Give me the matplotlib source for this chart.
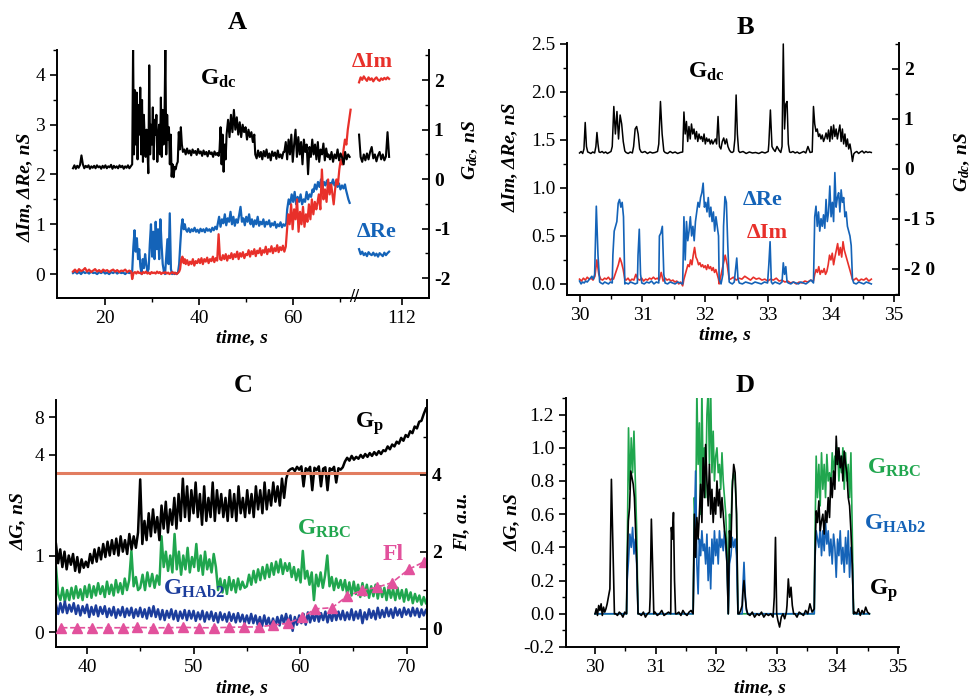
import numpy as np
import matplotlib
matplotlib.use('Agg')
import matplotlib.pyplot as plt
from matplotlib.ticker import FixedLocator, FixedFormatter, MultipleLocator, FormatStrFormatter

plt.rcParams['font.family'] = ['Liberation Serif', 'DejaVu Serif']
plt.rcParams['mathtext.fontset'] = 'custom'
plt.rcParams['mathtext.rm'] = 'Liberation Serif:bold'
plt.rcParams['mathtext.it'] = 'Liberation Serif:italic:bold'
plt.rcParams['mathtext.bf'] = 'Liberation Serif:bold'
plt.rcParams['axes.unicode_minus'] = False

# ---------------- DATA ----------------
# Panel A  (segments: t_start, t_end, values)
A_gdc_pre = [
    (13.2, 25.5, [0.22,0.28,0.21,0.27,0.23,0.29,0.48,0.30,0.22,0.27,0.24,0.28,0.21,0.26,0.23,0.27,0.22,0.28,0.24,0.26,0.21,
                  0.27,0.23,0.28,0.22,0.26,0.24,0.29,0.21,0.27,0.23,0.26,0.22,0.28,0.24,0.27,0.21,0.26,0.23,0.28,0.22,0.26]),
    (25.8, 34.2, [0.3,2.7,0.5,1.8,0.7,1.75,0.4,1.5,0.9,1.85,0.5,1.6,0.35,1.3,0.8,0.45,1.0,0.6,0.12,2.3,0.5,1.1,0.7,1.45,0.4,
                  1.2,0.9,1.3,0.35,0.8,1.1,0.5,1.65,0.45,1.4,0.7,1.2,2.7,0.5,1.3,0.8,1.05,0.3,0.9,0.05]),
    (34.4, 36.6, [0.3,0.04,0.25,0.2,0.3,0.35,0.95,0.6,1.05,0.7,0.55]),
    (36.9, 44.2, [0.6,0.5,0.62,0.52,0.58,0.48,0.6,0.53,0.57,0.49,0.61,0.52,0.56,0.47,0.58,0.5,0.55,0.46,0.57,0.51,0.54,0.45,
                  0.56,0.49,0.53,0.47]),
    (44.4, 45.7, [0.6,1.05,0.3,0.9,0.15,0.7,0.4]),
    (45.9, 51.8, [0.9,1.2,0.85,1.3,0.95,1.4,1.0,1.25,0.9,1.15,0.85,1.1,0.95,1.05,0.8,1.0,0.85,0.95,0.75,0.9]),
    (52.0, 58.0, [0.5,0.42,0.58,0.45,0.55,0.4,0.57,0.46,0.6,0.43,0.52,0.38,0.56,0.47,0.54,0.41,0.58,0.44,0.5,0.42,0.55]),
    (58.2, 67.4, [0.55,0.75,0.4,0.8,0.5,0.9,0.35,0.7,1.0,0.45,0.85,0.5,0.75,0.3,0.8,0.55,0.7,0.1,0.65,0.45,0.8,0.5,0.7,
                  0.4,0.75,0.35,0.6,0.5,0.72,0.38,0.62,0.45]),
    (67.6, 72.1, [0.5,0.4,0.55,0.35,0.5,0.42,0.6,0.38,0.52,0.44,0.3,0.55,0.4,0.5,0.45]),
]
A_gdc_post = [(102.9, 109.3, [0.9,0.45,0.35,0.5,0.38,0.52,0.4,0.55,0.65,0.42,0.5,0.36,0.48,0.55,0.4,0.5,0.38,0.46,0.95,0.45])]

A_re_pre = [
    (13.2, 25.6, [0.02,0.05,0.01,0.04,0.0,0.05,0.02,0.04,0.01,0.05,0.02,0.03,0.0,0.04,0.02,0.05,0.01,0.03,0.0,0.04,0.02,
                  0.05,0.01,0.04,0.02,0.03,0.0,0.04,0.02,0.03]),
    (25.8, 35.55, [0.05,0.55,0.88,0.45,0.72,0.3,0.5,0.15,0.0,0.3,0.12,0.4,0.2,0.05,0.1,0.6,1.0,0.35,0.85,0.3,1.05,0.5,0.9,
                   0.3,1.1,0.6,0.2,0.05,0.0,0.35,0.7,0.2,1.22,0.1,0.0,0.03,0.0,0.02,0.0,0.03]),
    (35.8, 37.0, [0.2,0.6,0.95,1.1,0.9,1.0]),
    (37.2, 43.8, [0.9,0.85,0.92,0.84,0.9,0.86,0.93,0.85,0.89,0.83,0.91,0.86,0.9,0.84,0.92,0.87,0.9,0.85,0.93,0.88,0.95,0.9]),
    (44.0, 58.6, [1.0,1.15,0.95,1.1,1.02,1.2,0.98,1.12,1.05,1.25,1.0,1.15,0.97,1.1,1.03,1.18,1.35,1.05,1.12,0.98,1.15,1.05,
                  1.2,1.0,1.1,0.95,1.08,1.0,1.15,0.97,1.05,1.0,1.1,0.95,1.05,1.0,1.08,0.95,1.02,0.98,1.05,0.93,1.0,0.96,
                  1.04,0.94,1.0,0.97,1.02]),
    (58.8, 64.2, [1.3,1.5,1.4,1.6,1.45,1.65,1.4,1.55,1.45,1.6,1.4,1.5,1.45,1.65,1.5,1.6,1.55,1.7]),
    (64.4, 71.1, [1.65,1.8,1.7,1.85,1.75,1.9,1.72,1.85,1.78,1.88,1.75,1.83,1.8,1.9,1.78,1.85,1.75,1.82,1.7,1.78,1.72,1.8]),
    (71.3, 72.1, [1.7,1.6,1.5,1.43]),
]
A_re_post = [(102.9, 109.3, [0.5,0.4,0.45,0.38,0.42,0.36,0.44,0.4,0.38,0.43,0.37,0.41,0.35,0.42,0.39,0.36,0.43,0.38,0.42,0.45])]

A_im_pre = [
    (13.2, 25.6, [0.05,0.09,0.04,0.1,0.06,0.08,0.12,0.05,0.09,0.04,0.07,0.1,0.05,0.08,0.04,0.09,0.06,0.08,0.04,0.07,0.09,
                  0.05,0.08,0.04,0.07,0.06,0.09,0.04,0.07,0.05]),
    (25.8, 35.8, [-0.1,0.02,0.04,0.01,0.05,0.02,0.03,0.0,0.04,0.02,0.05,0.01,0.03,0.0,0.04,0.02,0.03,0.01,0.05,0.02,0.04,
                  0.0,0.03,0.02,0.04,0.01,0.03,0.0,0.02,0.04,0.01,0.03,0.0,0.02,0.05]),
    (36.0, 37.0, [0.1,0.3,0.35,0.22,0.3]),
    (37.2, 58.5, [0.2,0.28,0.18,0.25,0.2,0.3,0.17,0.26,0.22,0.3,
                  0.22,0.32,0.2,0.3,0.25,0.33,0.22,0.3,0.26,0.35,0.24,0.32,0.27,
                  0.8,0.3,
                  0.28,0.38,0.3,0.4,0.27,0.37,0.32,0.42,0.3,0.4,0.34,0.45,0.3,0.42,0.35,0.44,0.32,0.4,
                  0.38,0.48,0.35,0.46,0.4,0.5,0.36,0.47,0.42,0.52,0.38,0.48,0.43,0.55,0.4,0.5,0.45,0.56,0.42,0.52,
                  0.46,0.58,0.44,0.54,0.48,0.57,0.45,0.55]),
    (58.7, 65.0, [0.8,1.2,1.0,1.4,0.9,1.3,1.1,1.5,0.85,1.25,1.0,1.35,0.95,1.2,1.05,1.4,1.1,1.5,1.2,1.45,1.3]),
    (65.2, 68.5, [1.4,1.6,1.3,2.1,1.5,1.7,1.45,1.9,1.6,1.8,1.55]),
    (68.7, 72.3, [1.4,1.7,1.9,1.8,2.1,2.3,2.2,2.5,2.7,2.6,2.9,3.1,3.3]),
]
A_im_post = [(102.9, 109.3, [3.85,3.95,3.9,3.97,3.92,3.88,3.95,3.9,3.93,3.87,3.92,3.95,3.9,3.88,3.93,3.9,3.94,3.91,3.95,3.92])]

# Panel B
B_gdc = [
    (30.00, 30.05, [0.32,0.35,0.31]),
    (30.07, 30.13, [0.4,0.93,0.45,0.34]),
    (30.15, 30.24, [0.33,0.31,0.34,0.32]),
    (30.26, 30.31, [0.45,0.73,0.5,0.34]),
    (30.33, 30.50, [0.33,0.35,0.32,0.34,0.31,0.33,0.35]),
    (30.52, 30.72, [0.45,1.25,0.7,1.15,0.6,1.08,0.9,0.55,0.36]),
    (30.74, 30.84, [0.33,0.31,0.34,0.32]),
    (30.86, 30.98, [0.45,0.8,0.85,0.7,0.4,0.34]),
    (31.00, 31.24, [0.33,0.35,0.31,0.34,0.32,0.33,0.35]),
    (31.26, 31.34, [0.5,1.35,0.7,0.36]),
    (31.36, 31.64, [0.33,0.31,0.35,0.32,0.34,0.31,0.33,0.34]),
    (31.66, 32.16, [1.14,0.7,0.95,0.55,0.85,0.6,0.9,0.7,0.8,0.6,0.75,0.55,0.7,0.6,0.65,0.55,0.7,0.5,0.62,0.55,0.6,0.5,
                    0.58,0.5,0.55,0.6]),
    (32.18, 32.45, [0.5,1.05,0.45,0.4,0.55,0.62,0.5,0.6,0.45,0.38,0.34,0.33,0.35]),
    (32.47, 32.53, [0.6,1.48,0.7,0.36]),
    (32.55, 33.00, [0.33,0.35,0.31,0.34,0.32,0.33,0.31,0.34,0.32,0.35]),
    (33.01, 33.06, [0.5,1.18,0.45]),
    (33.08, 33.20, [0.4,0.35,0.45,0.38,0.33]),
    (33.22, 33.34, [0.45,2.5,0.8,1.3,1.35,0.5,0.34]),
    (33.36, 33.70, [0.33,0.35,0.32,0.34,0.31,0.33,0.35,0.32,0.45,0.33,0.34]),
    (33.72, 34.32, [1.25,0.9,0.75,0.8,0.65,0.7,0.6,0.68,0.55,0.62,0.72,0.6,0.78,0.55,0.85,0.6,0.88,0.65,0.8,0.6,0.75,0.88,
                    0.55,0.8,0.5,0.7,0.45,0.6,0.4,0.5,0.35]),
    (34.34, 34.36, [0.15,0.3]),
    (34.38, 34.64, [0.33,0.35,0.31,0.34,0.36,0.32,0.35,0.33,0.34,0.33]),
]
B_re = [
    (30.00, 30.22, [0.03,0.0,0.02,0.01,0.03,0.02,0.04,0.06,0.08,0.05]),
    (30.24, 30.32, [0.1,0.81,0.3,0.02]),
    (30.34, 30.52, [0.01,0.0,0.02,0.01,0.0,0.02,0.01]),
    (30.53, 30.72, [0.3,0.55,0.6,0.65,0.84,0.88,0.8,0.85,0.7,0.0]),
    (30.74, 30.92, [0.01,0.0,0.02,0.01,0.0,0.01]),
    (30.93, 30.97, [0.3,0.57,0.1]),
    (30.99, 31.26, [0.01,0.0,0.02,0.01,0.03,0.0,0.02,0.01]),
    (31.27, 31.34, [0.5,0.53,0.6,0.1]),
    (31.36, 31.64, [0.01,0.0,0.02,0.01,0.0,0.02,0.01,0.0]),
    (31.66, 32.21, [0.7,0.25,0.65,0.45,0.55,0.7,0.5,0.6,0.45,0.65,0.75,0.85,0.8,0.9,0.95,1.05,0.8,0.85,0.75,0.9,0.7,0.8,
                    0.65,0.75,0.55,0.7,0.6,0.5]),
    (32.22, 32.28, [0.05,0.0,0.1]),
    (32.29, 32.38, [0.6,0.91,0.85,0.4,0.02]),
    (32.40, 32.46, [0.01,0.0,0.02]),
    (32.48, 32.52, [0.15,0.27,0.05]),
    (32.54, 32.99, [0.01,0.0,0.02,0.01,0.0,0.02,0.01,0.0,0.02,0.01]),
    (33.01, 33.05, [0.2,0.44,0.02]),
    (33.07, 33.22, [0.0,0.02,0.01,0.0,0.02]),
    (33.24, 33.30, [0.22,0.1,0.18,0.02]),
    (33.32, 33.72, [0.01,0.0,0.02,0.01,0.0,0.02,0.01,0.0,0.02,0.04,0.01]),
    (33.74, 34.34, [0.7,0.81,0.6,0.75,0.55,0.68,0.6,0.72,0.58,0.88,0.65,0.75,1.02,0.7,0.85,0.65,1.16,0.8,0.9,0.95,0.75,
                    0.98,0.85,0.9,0.7,0.75,0.6,0.55,0.5,0.4,0.05]),
    (34.36, 34.64, [0.01,0.0,0.02,0.01,0.0,0.02,0.01,0.0]),
]
B_im = [
    (30.00, 30.52, [0.05,0.03,0.06,0.04,0.07,0.05,0.06,0.04,0.08,0.25,0.1,0.05,0.04,0.06,0.05,0.07,0.04,0.06]),
    (30.54, 30.72, [0.05,0.1,0.15,0.2,0.27,0.22,0.15,0.05]),
    (30.74, 31.64, [0.04,0.06,0.03,0.05,0.04,0.1,0.05,0.04,0.06,0.03,0.05,0.04,0.06,0.05,0.07,0.05,0.06,0.04,0.12,0.03,
                    0.06,0.04,0.05,0.03,0.04,0.02,0.03,0.0,0.02,-0.02]),
    (31.66, 32.21, [0.05,0.1,0.15,0.2,0.18,0.25,0.2,0.3,0.38,0.28,0.25,0.2,0.22,0.18,0.2,0.17,0.19,0.15,0.2,0.16,0.18,0.14,
                    0.17,0.12,0.15,0.1,0.05]),
    (32.22, 32.38, [0.0,0.1,0.2,0.3,0.2,0.05]),
    (32.40, 33.72, [0.05,0.07,0.04,0.06,0.05,0.08,0.06,0.04,0.07,0.05,0.06,0.04,0.05,0.03,0.05,0.04,0.06,0.03,0.04,0.02,
                    0.03,0.01,0.02,0.0,0.02,0.01,0.03,0.02,0.04,0.03]),
    (33.74, 34.34, [0.1,0.15,0.12,0.18,0.1,0.14,0.12,0.16,0.1,0.13,0.2,0.3,0.25,0.32,0.2,0.28,0.35,0.42,0.3,0.38,0.28,0.44,
                    0.35,0.3,0.25,0.2,0.15,0.1,0.05]),
    (34.36, 34.64, [0.04,0.06,0.03,0.05,0.04,0.06,0.03,0.05]),
]

# Panel C
C_gp = [
    (37.1, 39.9, [1.15,0.9,1.08,0.85,1.05,0.82,1.0,0.88,1.02,0.8,0.98,0.78,0.95,0.84,0.92]),
    (40.1, 44.8, [0.85,1.02,0.9,1.08,0.92,1.1,0.95,1.15,0.98,1.18,1.0,1.2,1.02,1.22,1.0,1.25,1.05,1.2,1.02,1.28,1.08,1.25,
                  1.1,1.3]),
    (45.0, 48.8, [1.99,1.15,1.45,1.2,1.55,1.25,1.6,1.3,1.5,1.2,1.65,1.35,1.7,1.3,1.6,1.4,1.75,1.35,1.8,1.45]),
    (49.0, 52.8, [2.0,1.5,1.9,1.45,1.85,1.55,1.95,1.5,1.8,1.4,1.9,1.45,1.75,1.5,1.95,1.45,1.85,1.55,1.8,1.5]),
    (53.0, 58.5, [1.75,1.45,1.85,1.5,1.8,1.45,1.9,1.55,1.75,1.5,1.85,1.55,1.8,1.5,1.9,1.6,1.85,1.55,1.95,1.6,1.85,1.65,
                  1.95,1.7,1.9,1.65,2.0,1.75]),
    (58.7, 59.1, [2.0,2.3,2.5]),
    (59.3, 64.0, [2.6,2.3,2.75,2.45,2.8,1.9,2.6,2.35,2.75,1.85,2.65,2.4,2.8,1.9,2.55,2.7,1.85,2.6,2.4,2.75,1.95,2.6,2.45,
                  2.7]),
    (64.2, 67.8, [3.3,3.7,3.4,3.9,3.5,3.8,3.6,4.0,3.7,4.1,3.8,4.2,3.9,4.3,4.0,4.4,4.1,4.5]),
    (68.0, 71.8, [4.4,4.9,4.6,5.1,4.9,5.4,5.2,5.8,5.5,6.1,5.9,6.5,6.3,7.0,6.8,7.5,7.6,8.3,8.9]),
]
C_rbc = [
    (37.1, 44.8, [0.85,0.5,0.42,0.58,0.4,0.55,0.42,0.58,0.44,0.6,0.45,0.56,0.42,0.6,0.46,0.62,0.45,0.6,0.48,0.64,0.5,0.6,
                  0.46,0.66,0.5,0.62,0.48,0.68,0.52,0.64,0.5,0.7,0.55,0.68,1.06,0.6,0.72,0.55]),
    (45.0, 46.8, [0.58,0.75,0.55,0.78,0.6,0.76,0.58,0.74,0.62]),
    (47.0, 52.1, [1.25,0.85,1.05,0.8,1.0,0.78,1.28,0.82,1.05,0.75,1.0,0.82,1.1,0.78,0.98,0.85,1.15,0.8,1.0,0.75,1.05,0.82,
                  0.95,0.78,1.02,0.85]),
    (52.3, 54.8, [0.55,0.7,0.52,0.68,0.5,0.72,0.55,0.68,0.52,0.7,0.56,0.66,0.58]),
    (55.0, 58.8, [0.6,0.75,0.62,0.8,0.65,0.82,0.68,0.85,0.7,0.88,0.72,0.9,0.75,0.92,0.78,0.95,0.76,0.9,0.8]),
    (59.0, 63.8, [0.9,0.72,0.85,0.68,0.82,0.65,1.06,0.7,0.8,0.62,0.78,0.42,0.75,0.6,0.78,0.58,0.74,1.0,0.6,0.72,0.55,0.7,
                  0.58,0.68]),
    (64.0, 71.8, [0.55,0.68,0.5,0.65,0.48,0.66,0.5,0.62,0.46,0.64,0.48,0.62,0.45,0.6,0.47,0.62,0.44,0.6,0.46,0.58,0.42,0.6,
                  0.45,0.56,0.42,0.58,0.44,0.55,0.4,0.56,0.42,0.52,0.38,0.5,0.4,0.48,0.36,0.46,0.38]),
]
C_hab2 = [
    (37.1, 44.8, [0.36,0.24,0.38,0.26,0.4,0.25,0.36,0.27,0.38,0.24,0.35,0.22,0.34,0.25,0.36,0.2,0.33,0.23,0.35,0.21,0.33,
                  0.24,0.34,0.2,0.31,0.22,0.33,0.19,0.3,0.22,0.33,0.2,0.31,0.22,0.32,0.19,0.3,0.21]),
    (45.0, 54.8, [0.32,0.2,0.3,0.18,0.32,0.21,0.34,0.2,0.3,0.17,0.29,0.16,0.28,0.19,0.3,0.17,0.28,0.15,0.27,0.18,0.29,0.16,
                  0.28,0.18,0.28,0.15,0.26,0.17,0.28,0.14,0.26,0.17,0.27,0.15,0.25,0.13,0.26,0.16,0.24,0.14,0.26,0.15,
                  0.24,0.13,0.25,0.14,0.23,0.12]),
    (55.0, 63.8, [0.22,0.12,0.24,0.12,0.22,0.1,0.2,0.08,0.22,0.1,0.19,0.06,0.18,0.08,0.2,0.09,0.22,0.12,0.24,0.11,0.22,0.02,
                  0.2,0.1,0.22,0.12,0.24,0.1,0.26,0.13,0.24,0.15,0.27,0.14,0.25,0.16,0.27,0.13,0.26,0.15,0.28,0.16,0.27,
                  0.17]),
    (64.0, 71.8, [0.28,0.16,0.26,0.17,0.3,0.16,0.27,0.18,0.29,0.12,0.26,0.17,0.3,0.19,0.28,0.17,0.32,0.19,0.29,0.2,0.32,
                  0.21,0.3,0.19,0.32,0.22,0.3,0.2,0.32,0.23,0.3,0.21,0.32,0.22,0.31,0.2,0.3,0.22,0.29]),
]
C_fl_t = [37.6,39.1,40.5,42.0,43.4,44.7,46.2,47.6,49.0,50.5,51.9,53.3,54.7,56.1,57.5,58.9,60.2,61.4,63.0,64.4,65.8,67.2,
          68.6,70.2,71.6]
C_fl_v = [0.03,0.03,0.03,0.03,0.03,0.04,0.03,0.03,0.04,0.03,0.03,0.04,0.05,0.05,0.1,0.15,0.3,0.52,0.55,0.85,1.0,1.08,
          1.2,1.55,1.74]

# Panel D
D_gp = [
    (30.00, 30.20, [0.0,0.03,-0.01,0.05,0.02,0.06,-0.01,0.04,0.01,0.03,0.06]),
    (30.22, 30.32, [0.1,0.15,0.81,0.4,0.0]),
    (30.34, 30.52, [0.0,-0.01,0.01,0.0,-0.02,0.01,0.0]),
    (30.53, 30.71, [0.3,0.56,0.64,0.86,0.82,0.78,0.7,0.5,0.3,0.0]),
    (30.73, 30.90, [0.0,-0.01,0.01,-0.02,0.0,0.01]),
    (30.91, 30.97, [0.1,0.57,0.3,0.0]),
    (30.99, 31.25, [0.01,-0.01,0.0,0.02,-0.01,0.0,0.01,0.0]),
    (31.26, 31.33, [0.52,0.45,0.61,0.2,0.0]),
    (31.35, 31.62, [0.0,0.01,-0.01,0.02,0.0,-0.01,0.01,0.02,0.0]),
    (31.64, 32.20, [0.6,0.34,0.58,0.45,0.6,0.78,0.55,0.94,0.7,1.02,0.8,0.65,0.9,0.6,0.75,0.55,0.7,0.6,0.8,0.65,0.75,0.58,
                    0.7,0.6,0.5,0.45,0.3,0.0]),
    (32.22, 32.36, [0.5,0.4,0.75,0.9,0.85,0.6,0.0]),
    (32.38, 32.43, [0.0,0.02,0.05]),
    (32.44, 32.50, [0.12,0.2,0.1,0.03]),
    (32.52, 32.94, [0.0,-0.01,0.01,-0.02,0.0,-0.01,0.01,-0.02,0.0,-0.01,0.0,-0.02]),
    (32.96, 33.00, [0.1,0.46,0.0]),
    (33.02, 33.16, [-0.04,-0.08,-0.02,0.0,-0.03,0.01]),
    (33.17, 33.28, [0.05,0.21,0.1,0.16,0.05,0.0]),
    (33.30, 33.62, [0.0,-0.02,0.01,0.0,-0.01,0.02,0.0,0.06,0.01,0.03]),
    (33.63, 34.27, [0.3,0.62,0.55,0.68,0.5,0.56,0.6,0.48,0.62,0.55,0.7,0.58,0.82,0.7,0.86,0.75,1.07,0.9,1.0,0.88,0.95,0.8,
                    0.98,0.9,0.85,0.7,0.65,0.5,0.3,0.0]),
    (34.29, 34.53, [0.01,0.0,0.03,-0.01,0.02,0.0,0.04,0.01,0.0]),
]
D_rbc = [
    (30.00, 30.52, [0.0,0.0]),
    (30.53, 30.71, [0.3,1.12,0.75,1.06,0.85,1.1,0.8,0.5,0.0]),
    (30.73, 31.62, [0.0,0.0]),
    (31.64, 32.20, [0.7,0.5,1.35,0.9,1.15,0.6,1.35,0.8,1.0,0.7,1.2,1.35,0.9,1.35,0.85,1.1,0.8,0.95,1.0,0.85,0.9,0.75,0.97,
                    0.8,0.7,0.6,0.4,0.0]),
    (32.22, 32.36, [0.6,0.5,0.8,0.85,0.8,0.6,0.0]),
    (32.38, 33.62, [0.0,0.0]),
    (33.63, 34.27, [0.4,0.95,0.7,0.9,0.65,0.97,0.75,0.9,0.7,0.96,0.8,0.85,0.75,0.97,0.85,0.95,0.9,1.0,0.8,0.95,0.85,1.0,
                    0.75,0.97,0.8,0.9,0.7,0.97,0.5,0.0]),
    (34.29, 34.53, [0.0,0.0]),
]
D_hab2 = [
    (30.00, 30.52, [0.0,0.0]),
    (30.53, 30.71, [0.2,0.32,0.48,0.4,0.52,0.36,0.45,0.3,0.0]),
    (30.73, 31.62, [0.0,0.0]),
    (31.64, 32.20, [0.5,0.86,0.3,0.12,0.45,0.35,0.5,0.38,0.42,0.3,0.48,0.2,0.4,0.15,0.45,0.3,0.5,0.35,0.45,0.3,0.5,0.4,
                    0.45,0.38,0.5,0.4,0.3,0.0]),
    (32.22, 32.36, [0.3,0.35,0.46,0.4,0.45,0.35,0.0]),
    (32.38, 32.43, [0.0,0.0]),
    (32.44, 32.50, [0.15,0.31,0.12,0.02]),
    (32.52, 33.62, [0.0,0.0]),
    (33.63, 34.27, [0.3,0.5,0.45,0.4,0.52,0.35,0.5,0.38,0.55,0.42,0.5,0.35,0.45,0.3,0.48,0.4,0.22,0.45,0.35,0.5,0.3,0.4,
                    0.25,0.46,0.3,0.5,0.22,0.4,0.3,0.0]),
    (34.29, 34.53, [0.0,0.0]),
]

# Tick labels
A_xticks = [20, 40, 60, 112]
B_right_ticks = [2, 1, 0, -1, -2]
B_right_labels = ['2', '1', '0', '-1 5', '-2 0']
C_left_ticks = [0, 1, 4, 8]
C_right_ticks = [0, 2, 4, 6]

# ---------------- helpers ----------------
def build(segments):
    ts, vs = [], []
    for t0, t1, vals in segments:
        ts.append(np.linspace(t0, t1, len(vals)))
        vs.append(np.asarray(vals, float))
    return np.concatenate(ts), np.concatenate(vs)

RED = '#e8302a'
BLUE = '#1463b8'
GREEN = '#20a64e'
NAVY = '#1c3d9c'
PINK = '#e2519c'
SALMON = '#e27d60'

TICK_FS = 14
LAB_FS = 14

fig = plt.figure(figsize=(9.7, 6.98), dpi=100)

def style(ax):
    ax.spines['top'].set_visible(False)
    ax.tick_params(labelsize=TICK_FS, width=1.2, length=5)
    ax.tick_params(which='minor', width=1.0, length=3)
    for s in ax.spines.values():
        s.set_linewidth(1.4)

# ---------- Panel A (broken x axis via function scale) ----------
B1, B2, OFF = 73.0, 101.9, 28.8
k = (B2 - OFF - B1) / (B2 - B1)
def fwdA(t):
    t = np.asarray(t, float)
    return np.where(t <= B1, t, np.where(t < B2, B1 + (t - B1) * k, t - OFF))
def invA(v):
    v = np.asarray(v, float)
    return np.where(v <= B1, v, np.where(v < B2 - OFF, B1 + (v - B1) / k, v + OFF))

axA = fig.add_axes([0.0588, 0.5731, 0.3835, 0.3553])
axA.set_xscale('function', functions=(fwdA, invA))
axA2 = axA.twinx()
LWA = 1.6
t, v = build(A_re_pre); axA.plot(t, v, color=BLUE, lw=LWA)
t, v = build(A_re_post); axA.plot(t, v, color=BLUE, lw=LWA)
t, v = build(A_im_pre); axA.plot(t, v, color=RED, lw=LWA)
t, v = build(A_im_post); axA.plot(t, v, color=RED, lw=LWA)
t, v = build(A_gdc_pre); axA2.plot(t, v, color='black', lw=1.5)
t, v = build(A_gdc_post); axA2.plot(t, v, color='black', lw=1.5)
axA.set_xlim(9.8, 117.8)
axA.set_ylim(-0.48, 4.5)
axA2.set_ylim(-2.40, 2.61)
axA.xaxis.set_major_locator(FixedLocator(A_xticks))
axA.xaxis.set_major_formatter(FixedFormatter([str(x) for x in A_xticks]))
axA.xaxis.set_minor_locator(FixedLocator([30, 50, 70]))
axA.yaxis.set_major_locator(MultipleLocator(1))
axA.yaxis.set_minor_locator(MultipleLocator(0.5))
axA2.yaxis.set_major_locator(MultipleLocator(1))
axA2.yaxis.set_minor_locator(MultipleLocator(0.5))
for a in (axA, axA2):
    style(a)
axA.spines['right'].set_visible(False)
axA2.spines['left'].set_visible(False)
axA.tick_params(axis='both', which='both', direction='out')
axA2.tick_params(axis='y', which='both', direction='in')
for lab in axA2.get_yticklabels():
    lab.set_fontweight('bold')
axA.text(87.0, -0.48, '//', ha='center', va='center', fontsize=13, fontweight='bold',
         bbox=dict(facecolor='white', edgecolor='none', pad=0.5), clip_on=False)
axA.text(0.384, 0.859, r'$\mathrm{G_{dc}}$', transform=axA.transAxes, fontsize=17, color='black')
axA.text(0.793, 0.931, 'ΔIm', transform=axA.transAxes, fontsize=16, color=RED, fontweight='bold')
axA.text(0.806, 0.246, 'ΔRe', transform=axA.transAxes, fontsize=16, color=BLUE, fontweight='bold')

# ---------- Panel B ----------
axB = fig.add_axes([0.5845, 0.5774, 0.3423, 0.361])
axB2 = axB.twinx()
t, v = build(B_im); axB.plot(t, v, color=RED, lw=1.2)
t, v = build(B_re); axB.plot(t, v, color=BLUE, lw=1.2)
t, v = build(B_gdc); axB2.plot(t, v, color='black', lw=1.1)
axB.set_xlim(29.8, 35.08)
axB.set_ylim(-0.115, 2.51)
axB2.set_ylim(-2.52, 2.52)
axB.xaxis.set_major_locator(MultipleLocator(1))
axB.xaxis.set_minor_locator(MultipleLocator(0.5))
axB.yaxis.set_major_locator(MultipleLocator(0.5))
axB.yaxis.set_minor_locator(MultipleLocator(0.25))
axB.yaxis.set_major_formatter(FormatStrFormatter('%.1f'))
axB2.yaxis.set_major_locator(FixedLocator(B_right_ticks))
axB2.yaxis.set_major_formatter(FixedFormatter(B_right_labels))
axB2.yaxis.set_minor_locator(MultipleLocator(0.5))
for a in (axB, axB2):
    style(a)
axB.spines['right'].set_visible(False)
axB2.spines['left'].set_visible(False)
axB.tick_params(axis='both', which='both', direction='out')
axB2.tick_params(axis='y', which='both', direction='in')
for lab in axB2.get_yticklabels():
    lab.set_fontweight('bold')
axB.text(0.364, 0.861, r'$\mathrm{G_{dc}}$', transform=axB.transAxes, fontsize=17, color='black')
axB.text(0.53, 0.357, 'ΔRe', transform=axB.transAxes, fontsize=16, color=BLUE, fontweight='bold')
axB.text(0.542, 0.226, 'ΔIm', transform=axB.transAxes, fontsize=16, color=RED, fontweight='bold')

# ---------- Panel C (broken y axis via function scale) ----------
YB, KY = 2.07, 0.1234
def fwdC(y):
    y = np.asarray(y, float)
    return np.where(y <= YB, y, YB + (y - YB) * KY)
def invC(v):
    v = np.asarray(v, float)
    return np.where(v <= YB, v, YB + (v - YB) / KY)

axC = fig.add_axes([0.0577, 0.0731, 0.3825, 0.3539])
axC.set_yscale('function', functions=(fwdC, invC))
axC2 = axC.twinx()
LWC = 1.8
t, v = build(C_rbc); axC.plot(t, v, color=GREEN, lw=LWC)
t, v = build(C_hab2); axC.plot(t, v, color=NAVY, lw=LWC)
t, v = build(C_gp); axC.plot(t, v, color='black', lw=LWC)
axC.axhline(YB, color=SALMON, lw=2.2)
axC2.plot(C_fl_t, C_fl_v, color=PINK, lw=1.2, ls='--', marker='^', markersize=7)
axC.set_xlim(37.1, 71.9)
axC.set_ylim(-0.19, 9.8)
axC2.set_ylim(-0.47, 5.95)
axC.xaxis.set_major_locator(MultipleLocator(10))
axC.xaxis.set_minor_locator(MultipleLocator(5))
axC.yaxis.set_major_locator(FixedLocator(C_left_ticks))
axC.yaxis.set_major_formatter(FixedFormatter([str(x) for x in C_left_ticks]))
axC.yaxis.set_minor_locator(FixedLocator([]))
axC2.yaxis.set_major_locator(FixedLocator(C_right_ticks))
axC2.yaxis.set_minor_locator(MultipleLocator(1))
for a in (axC, axC2):
    style(a)
axC.spines['right'].set_visible(False)
axC2.spines['left'].set_visible(False)
axC.tick_params(axis='both', which='both', direction='out')
axC2.tick_params(axis='y', which='both', direction='in')
for lab in axC2.get_yticklabels():
    lab.set_fontweight('bold')
axC.text(0.806, 0.887, r'$\mathrm{G_{p}}$', transform=axC.transAxes, fontsize=17, color='black')
axC.text(0.65, 0.453, r'$\mathrm{G_{RBC}}$', transform=axC.transAxes, fontsize=17, color=GREEN)
axC.text(0.881, 0.352, 'Fl', transform=axC.transAxes, fontsize=17, color=PINK, fontweight='bold')
axC.text(0.288, 0.21, r'$\mathrm{G_{HAb2}}$', transform=axC.transAxes, fontsize=17, color=NAVY)

# ---------- Panel D ----------
axD = fig.add_axes([0.5835, 0.0731, 0.3433, 0.3567])
t, v = build(D_rbc); axD.plot(t, v, color=GREEN, lw=1.2)
t, v = build(D_hab2); axD.plot(t, v, color=BLUE, lw=1.2)
t, v = build(D_gp); axD.plot(t, v, color='black', lw=1.2)
axD.set_xlim(29.52, 35.02)
axD.set_ylim(-0.2, 1.3)
axD.xaxis.set_major_locator(MultipleLocator(1))
axD.xaxis.set_minor_locator(MultipleLocator(0.5))
axD.yaxis.set_major_locator(MultipleLocator(0.2))
axD.yaxis.set_minor_locator(MultipleLocator(0.1))
axD.yaxis.set_major_formatter(FormatStrFormatter('%.1f'))
style(axD)
axD.spines['right'].set_visible(False)
axD.tick_params(axis='both', which='both', direction='out')
axD.text(0.903, 0.694, r'$\mathrm{G_{RBC}}$', transform=axD.transAxes, fontsize=17, color=GREEN)
axD.text(0.894, 0.47, r'$\mathrm{G_{HAb2}}$', transform=axD.transAxes, fontsize=17, color=BLUE)
axD.text(0.91, 0.209, r'$\mathrm{G_{p}}$', transform=axD.transAxes, fontsize=17, color='black')

# ---------- titles and axis labels ----------
for x, y, s in [(0.245, 0.968, 'A'), (0.768, 0.961, 'B'), (0.2505, 0.4484, 'C'), (0.768, 0.4484, 'D')]:
    fig.text(x, y, s, ha='center', va='center', fontsize=19, fontweight='bold')

lab = dict(fontsize=LAB_FS, fontweight='bold', fontstyle='italic', ha='center', va='center')
fig.text(0.026, 0.732, 'ΔIm, ΔRe, nS', rotation=90, **lab)
fig.text(0.4845, 0.785, r'$G_{dc}$, nS', rotation=90, **lab)
fig.text(0.2495, 0.5158, 'time, s', **lab)
fig.text(0.5258, 0.775, 'ΔIm, ΔRe, nS', rotation=90, **lab)
fig.text(0.9918, 0.768, r'$G_{dc}$, nS', rotation=90, **lab)
fig.text(0.747, 0.52, 'time, s', **lab)
fig.text(0.0186, 0.2536, 'ΔG, nS', rotation=90, **lab)
fig.text(0.476, 0.252, 'Fl, a.u.', rotation=90, **lab)
fig.text(0.2495, 0.0143, 'time, s', **lab)
fig.text(0.528, 0.252, 'ΔG, nS', rotation=90, **lab)
fig.text(0.7835, 0.0143, 'time, s', **lab)

fig.savefig('out.png', dpi=100)
